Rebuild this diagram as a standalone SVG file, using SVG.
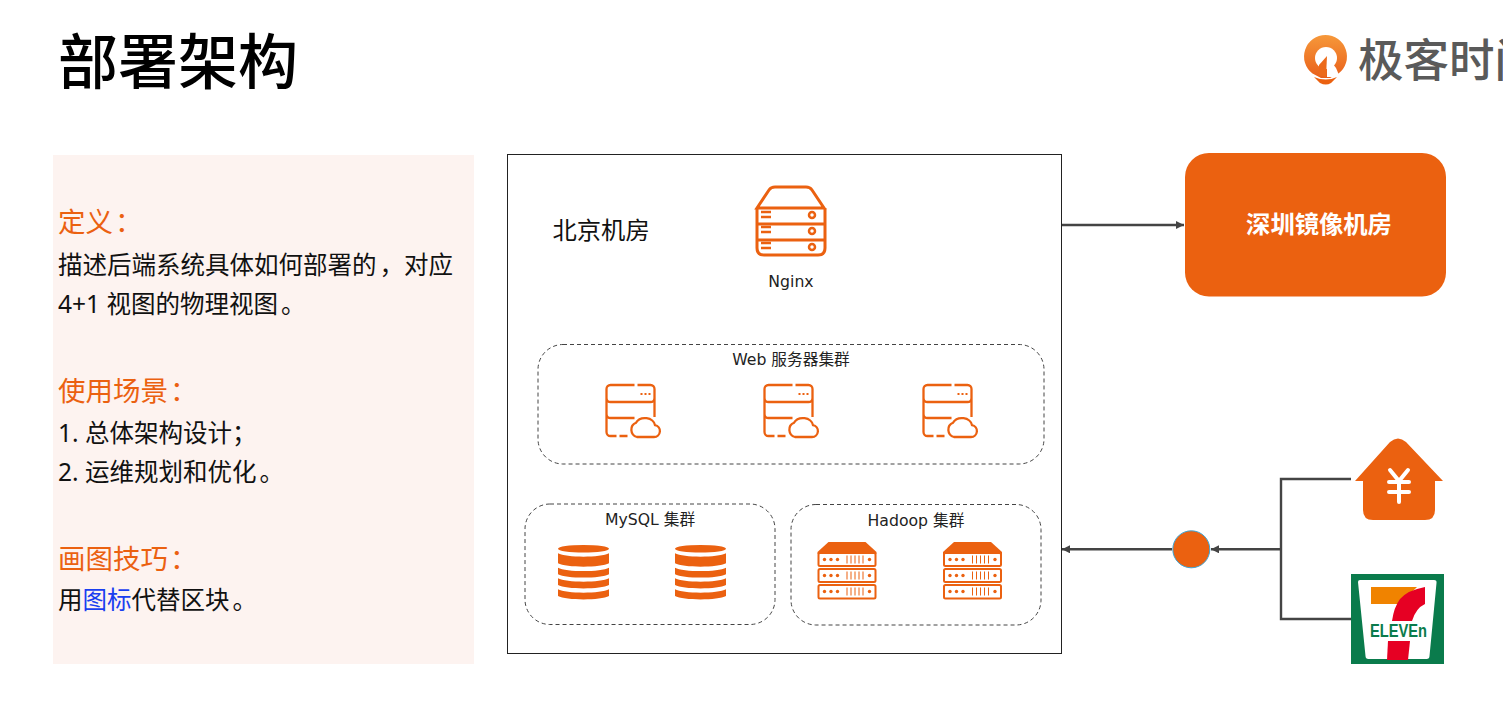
<svg xmlns="http://www.w3.org/2000/svg" width="1503" height="723" viewBox="0 0 1503 723">
<style>
text{font-family:"DejaVu Sans","Noto Sans CJK SC",sans-serif}
.cjk{font-family:"Noto Sans","Noto Sans CJK SC",sans-serif}
.s{font-family:"Noto Sans CJK SC",sans-serif}
.h{font-size:27.5px;fill:#eb6110}
.b{font-size:24.5px;fill:#111}
.l{font-size:15.7px;fill:#222;text-anchor:middle}
.ol{fill:none;stroke:#eb6110}
.fo{fill:#eb6110}
.dash{fill:#fff;stroke:#444;stroke-width:1;stroke-dasharray:4 3}
.con{fill:none;stroke:#444;stroke-width:2.4}
.wh{stroke:#fff;fill:none}
</style>
<defs>
<marker id="a" markerWidth="9" markerHeight="9" refX="8" refY="4" orient="auto" markerUnits="userSpaceOnUse"><path d="M0 0L8 4L0 8z" fill="#444"/></marker>
<g id="web">
<path class="ol" stroke-width="2.300" d="M28 1H4a4 4 0 0 0-4 4v9a4 4 0 0 0 4 4h40a4 4 0 0 0 4-4V5a4 4 0 0 0-4-4H31M0 14v16a4 4 0 0 0 4 4h24M48 14v19M0 30v18a4 4 0 0 0 4 4h6M13 52h8" transform="translate(.5 0)"/>
<path class="fo" d="M34.500 9h2v2h-2zM38.500 9h2v2h-2zM42.500 9h2v2h-2z"/>
<path d="M31 53h17a6 6 0 0 0 1-11.900a10 8 0 0 0-19-2.300a7.500 7.500 0 0 0 1 14.200z" fill="#fff" stroke="#eb6110" stroke-width="2.300"/>
</g>
<g id="db">
<ellipse class="fo" cx="25.500" cy="3.800" rx="25.500" ry="3.800"/>
<path class="fo" d="M0 8.300c8 4.500 43 4.500 51 0v10c-8 4.500-43 4.500-51 0zM0 22.700c8 4.500 43 4.500 51 0v6.500c-8 4.500-43 4.500-51 0zM0 33.300c8 4.500 43 4.500 51 0v6.700c-8 4.500-43 4.500-51 0zM0 44.300c8 4.500 43 4.500 51 0v6.700c-8 4.500-43 4.500-51 0z"/>
</g>
<g id="srv">
<path class="fo" d="M0 10L11 0H48L59 10V12H0z"/>
<g fill="none" stroke="#eb6110" stroke-width="2"><rect x="1" y="11" width="57" height="13" rx="1.500"/><rect x="1" y="27" width="57" height="13" rx="1.500"/><rect x="1" y="43" width="57" height="13.500" rx="1.500"/></g>
<g id="row" class="fo"><circle cx="7" cy="17.500" r="1.700"/><circle cx="13.500" cy="17.500" r="1.700"/><circle cx="20" cy="17.500" r="1.700"/><circle cx="52" cy="17.500" r="1.700"/><path d="M29 13.500h1v8h-1zM33 13.500h1v8h-1zM37 13.500h1v8h-1zM41 13.500h1v8h-1zM45 13.500h1v8h-1z"/></g>
<use href="#row" y="16"/><use href="#row" y="32"/>
</g>
<linearGradient id="lg" x1="0" y1="0" x2="0" y2="1"><stop offset="0" stop-color="#f6983a"/><stop offset="1" stop-color="#e9601a"/></linearGradient>
</defs>
<rect width="1503" height="723" fill="#fff"/>
<text id="title" class="s" x="58" y="84" font-size="60" font-weight="500" fill="#000">部署架构</text>
<g id="brand">
<path d="M1325.500 35a21.500 21.500 0 0 1 13 38.600L1330 78h-9l-8.500-4.400A21.500 21.500 0 0 1 1325.500 35z" fill="url(#lg)"/>
<circle cx="1326" cy="58" r="11" fill="#fff"/>
<path d="M1327 56L1336 68L1339 75L1333 77H1327z" fill="#fff"/>
<path d="M1319 65L1327 56L1326 77L1319 75z" fill="#ec6a1a"/>
<path d="M1314 77q12 5 23 0l-6 6q-5 3-11 0z" fill="#eb6110"/>
<text class="s" x="1358" y="77" font-size="45.500" font-weight="500" fill="#5a5a5a">极客时间</text>
</g>
<g id="panel">
<rect x="53" y="155" width="421" height="509" fill="#fdf3f0"/>
<text class="h cjk" x="58" y="232">定义<tspan dx="2">：</tspan></text>
<text class="b cjk" x="58" y="274">描述后端系统具体如何部署的<tspan dx="3">，</tspan>对应</text>
<text class="b cjk" x="58" y="313">4+1 视图的物理视图<tspan dx="3">。</tspan></text>
<text class="h cjk" x="58" y="401">使用场景<tspan dx="2">：</tspan></text>
<text class="b cjk" x="58" y="442">1. 总体架构设计；</text>
<text class="b cjk" x="58" y="481">2. 运维规划和优化<tspan dx="3">。</tspan></text>
<text class="h cjk" x="58" y="569">画图技巧<tspan dx="2">：</tspan></text>
<text class="b cjk" x="58" y="609">用<tspan fill="#1a3ff0">图标</tspan>代替区块<tspan dx="3">。</tspan></text>
</g>
<g id="beijing">
<rect x="507.500" y="154.500" width="554" height="499" fill="#fff" stroke="#222" stroke-width="1"/>
<text class="s" x="552.500" y="239" font-size="24.300" fill="#111">北京机房</text>
</g>
<g id="nginx">
<path class="ol" stroke-width="3" d="M757 208l12-18q2-3 6-3h31q4 0 6 3l12 18zM757 208v40q0 7 7 7h54q7 0 7-7v-40M757 224h68M757 240h68"/>
<path class="ol" stroke-width="2.500" d="M761 212h10M761 217h10M761 227h10M761 232h10M761 243h10M761 248h10"/>
<circle class="ol" stroke-width="2.500" cx="812" cy="215" r="3"/><circle class="ol" stroke-width="2.500" cx="812" cy="231" r="3"/><circle class="ol" stroke-width="2.500" cx="812" cy="247" r="3"/>
<text class="l" x="791" y="287">Nginx</text>
</g>
<g id="web-cluster">
<rect class="dash" x="538" y="344.500" width="506" height="119.500" rx="25"/>
<text class="l" x="791" y="365">Web 服务器集群</text>
<use href="#web" x="606" y="384"/><use href="#web" x="764" y="384"/><use href="#web" x="923" y="384"/>
</g>
<g id="mysql-cluster">
<rect class="dash" x="525" y="504" width="250" height="120.500" rx="25"/>
<text class="l" x="650" y="525">MySQL 集群</text>
<use href="#db" x="558" y="545"/><use href="#db" x="675" y="545"/>
</g>
<g id="hadoop-cluster">
<rect class="dash" x="791" y="504.500" width="250" height="120.500" rx="25"/>
<text class="l" x="916" y="526">Hadoop 集群</text>
<use href="#srv" x="817.500" y="542"/><use href="#srv" x="943" y="542"/>
</g>
<g id="shenzhen">
<rect x="1185" y="153" width="261" height="143.500" rx="24" fill="#eb6110"/>
<text class="s" x="1319" y="233" font-size="24.300" font-weight="700" fill="#fff" text-anchor="middle">深圳镜像机房</text>
</g>
<g id="hub"><circle cx="1191.300" cy="549.300" r="18.500" fill="#eb6110" stroke="#3ba6d8" stroke-width="1"/></g>
<g id="pay">
<path class="fo" d="M1355 481L1390 442q8-7 16 0L1443 481h-8v29q0 10-10 10h-52q-10 0-10-10v-29z"/>
<path class="wh" stroke-width="4" stroke-linecap="round" d="M1390 470l9 11 9-11M1399 481v21M1389 482h20M1389 492h20"/>
</g>
<g id="seven">
<rect x="1351" y="574" width="93" height="90" fill="#0a7b4c"/>
<path d="M1358 582q0-2 2-2h74q3 0 2.500 3l-7 73q0 3-3 3h-58q-3 0-3-3z" fill="#fff"/>
<path d="M1371 587h46l-17 17h-29z" fill="#f08300"/>
<path d="M1392 621q2-14 8-22 8-9 25-12v17q-9 4-13 17z" fill="#e60023"/>
<path d="M1388 641h22l-2 19h-21z" fill="#e60023"/>
<text x="1398.500" y="637" font-size="18" font-weight="700" fill="#0a7b4c" text-anchor="middle" textLength="57" lengthAdjust="spacingAndGlyphs" style="font-family:'Liberation Sans',sans-serif">ELEVEn</text>
</g>
<g id="connectors">
<path class="con" d="M1062 225H1184" marker-end="url(#a)"/>
<path class="con" d="M1172 549.300H1062" marker-end="url(#a)"/>
<path class="con" d="M1280 549.300H1211" marker-end="url(#a)"/>
<path class="con" d="M1351 479H1281V619H1351"/>
</g>
</svg>
